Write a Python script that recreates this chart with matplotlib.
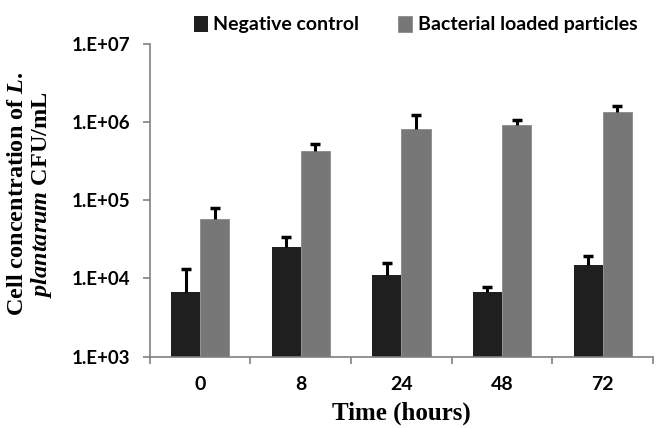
import matplotlib.pyplot as plt
import numpy as np

# values (CFU/mL)
times = ['0', '8', '24', '48', '72']
control = [6.7e3, 2.56e4, 1.09e4, 6.7e3, 1.5e4]
control_err = [6.6e3, 0.8e4, 0.48e4, 1.1e3, 0.45e4]
loaded = [5.7e4, 4.3e5, 8.2e5, 9.2e5, 1.34e6]
loaded_err = [2.3e4, 0.9e5, 4.3e5, 1.4e5, 0.26e6]

plt.rcParams['mathtext.fontset'] = 'custom'
plt.rcParams['mathtext.rm'] = 'Liberation Serif:bold'
plt.rcParams['mathtext.it'] = 'Liberation Serif:italic:bold'

fig = plt.figure(figsize=(6.57, 4.28), dpi=100)
ax = fig.add_axes([0.228, 0.167, 0.766, 0.730])

x = np.arange(len(times))
w = 0.29
ax.bar(x - w/2, control, w, color='#1f1f1f', label='Negative control')
ax.bar(x + w/2, loaded, w, color='#777777', edgecolor='#8a8a8a', linewidth=0.6,
       label='Bacterial loaded particles')

# upper error bars only (T shape)
for xs, vals, errs in [(x - w/2, control, control_err), (x + w/2, loaded, loaded_err)]:
    tops = np.array(vals) + np.array(errs)
    ax.vlines(xs, vals, tops, color='black', linewidth=2.2)
    ax.plot(xs, tops, linestyle='none', marker='_', markersize=7, markeredgewidth=2.5, color='black')

ax.set_yscale('log')
ax.set_ylim(1e3, 1e7)
ax.set_xlim(-0.5, 4.5)
ax.set_yticks([1e3, 1e4, 1e5, 1e6, 1e7])
ax.set_yticklabels(['1.E+03', '1.E+04', '1.E+05', '1.E+06', '1.E+07'],
                   fontfamily='Lato', fontweight='bold', fontsize=13.5)
ax.yaxis.set_minor_locator(plt.NullLocator())
ax.set_xticks(x)
ax.set_xticklabels(times, fontfamily='Lato', fontweight='bold', fontsize=14)
ax.set_xticks(np.arange(-0.5, 5, 1), minor=True)
ax.tick_params(axis='x', which='major', length=0, pad=14)
ax.tick_params(axis='x', which='minor', length=5, width=1.2, color='#808080', direction='out')
ax.tick_params(axis='y', which='major', length=5, width=1.2, color='#808080', direction='out', pad=9)

for s in ['top', 'right']:
    ax.spines[s].set_visible(False)
for s in ['left', 'bottom']:
    ax.spines[s].set_color('#808080')
    ax.spines[s].set_linewidth(1.2)

ax.set_xlabel('Time (hours)', fontfamily='Liberation Serif', fontweight='bold', fontsize=18)
ax.xaxis.set_label_coords(0.5, -0.145)
ax.set_ylabel('Cell concentration of $\\mathit{L.}$\n$\\mathit{plantarum}$ CFU/mL',
              fontfamily='Liberation Serif', fontweight='bold', fontsize=17.5,
              linespacing=1.05)
ax.yaxis.set_label_coords(-0.19, 0.52)

ax.legend(loc='lower right', bbox_to_anchor=(0.99, 1.0), ncol=2, frameon=False,
          prop=dict(family='Lato', weight='bold', size=14), handlelength=0.7, handleheight=0.9,
          handletextpad=0.3, columnspacing=2.0, borderaxespad=0.15)

fig.savefig('out.png')
